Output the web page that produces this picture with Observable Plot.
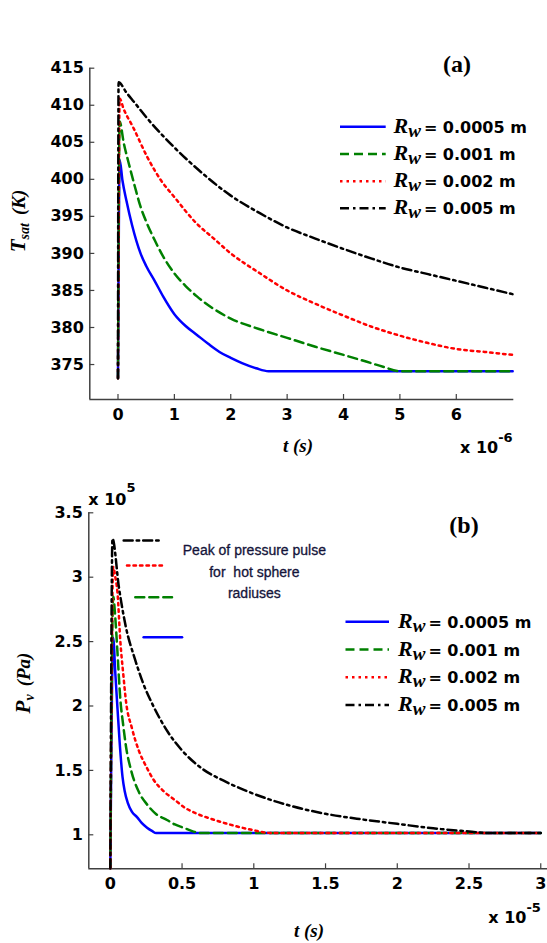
<!DOCTYPE html>
<html><head><meta charset="utf-8">
<script src="https://cdn.jsdelivr.net/npm/d3@7"></script>
<script src="https://cdn.jsdelivr.net/npm/@observablehq/plot@0.6"></script>
<style>
body{margin:0;background:#fff;}
#wrap{width:547px;}
#wrap svg{display:block;}
</style></head><body><div id="wrap"></div>
<script>
// ---------- data ----------
const radii = ["0.0005", "0.001", "0.002", "0.005"];
const colors = ["#0000ff", "#008000", "#ff0000", "#000000"];
const dashes = [null, "9,5", "2.5,4", "9,4,2.5,4"];

// Panel (a): T_sat (K) vs t (x 1e-6 s)
const tA1 = [0, 0.03, 0.08, 0.15, 0.25, 0.4, 0.5, 0.65, 0.8, 1.0, 1.2, 1.4, 1.6, 1.8, 2.0, 2.2, 2.45, 2.67, 7.0];
const vA1 = [373.15, 402.6, 399.8, 397.1, 393.8, 390.0, 388.3, 386.3, 384.2, 381.8, 380.2, 379.0, 377.8, 376.7, 375.9, 375.2, 374.5, 374.1, 374.1];
const tA2 = [0, 0.03, 0.1, 0.21, 0.3, 0.4, 0.5, 0.65, 0.8, 1.0, 1.2, 1.4, 1.7, 2.0, 2.5, 3.0, 3.5, 4.0, 4.4, 4.7, 5.0, 7.0];
const vA2 = [373.15, 407.8, 405.0, 401.6, 399.0, 396.3, 394.3, 391.8, 389.6, 387.3, 385.6, 384.2, 382.5, 381.2, 379.8, 378.6, 377.4, 376.3, 375.4, 374.7, 374.1, 374.1];
const tA3 = [0, 0.03, 0.1, 0.27, 0.52, 0.75, 1.0, 1.4, 1.7, 2.0, 2.5, 3.0, 3.5, 4.0, 4.5, 5.0, 5.5, 6.0, 6.5, 7.0];
const vA3 = [373.15, 410.9, 409.5, 407.0, 403.0, 400.0, 397.6, 394.0, 392.0, 390.0, 387.4, 385.0, 383.2, 381.6, 380.1, 378.9, 377.9, 377.1, 376.7, 376.3];
const tA4 = [0, 0.01, 0.15, 0.3, 0.5, 1.0, 1.5, 2.0, 2.5, 3.0, 3.5, 4.0, 4.5, 5.0, 5.5, 6.0, 6.5, 7.0];
const vA4 = [373.15, 413.1, 411.7, 410.3, 408.4, 404.3, 400.8, 397.8, 395.5, 393.5, 392.0, 390.6, 389.3, 388.1, 387.2, 386.3, 385.4, 384.5];

// Panel (b): P_v (x 1e5 Pa) vs t (x 1e-5 s)
const tB1 = [0, 0.02, 0.035, 0.05, 0.065, 0.085, 0.1, 0.121, 0.15, 0.186, 0.22, 0.256, 0.29, 0.32, 3.0];
const vB1 = [0.74, 2.53, 2.25, 1.98, 1.72, 1.45, 1.34, 1.25, 1.18, 1.137, 1.09, 1.055, 1.03, 1.013, 1.013];
const tB2 = [0, 0.02, 0.035, 0.048, 0.07, 0.09, 0.11, 0.145, 0.2, 0.26, 0.32, 0.395, 0.45, 0.51, 0.58, 0.63, 3.0];
const vB2 = [0.74, 2.85, 2.68, 2.45, 2.05, 1.85, 1.68, 1.5, 1.33, 1.23, 1.16, 1.115, 1.08, 1.055, 1.025, 1.013, 1.013];
const tB3 = [0, 0.02, 0.035, 0.05, 0.07, 0.09, 0.11, 0.15, 0.2, 0.25, 0.3, 0.37, 0.45, 0.52, 0.6, 0.7, 0.8, 0.9, 1.0, 1.1, 1.15, 3.0];
const vB3 = [0.74, 3.08, 3.0, 2.88, 2.5, 2.25, 2.03, 1.83, 1.65, 1.53, 1.43, 1.34, 1.27, 1.21, 1.165, 1.125, 1.09, 1.06, 1.035, 1.015, 1.013, 1.013];
const tB4 = [0, 0.015, 0.06, 0.109, 0.17, 0.231, 0.304, 0.4, 0.5, 0.644, 0.79, 1.0, 1.25, 1.5, 1.75, 2.0, 2.25, 2.5, 2.64, 3.0];
const vB4 = [0.74, 3.3, 2.92, 2.61, 2.37, 2.17, 1.99, 1.8, 1.655, 1.51, 1.42, 1.318, 1.227, 1.163, 1.12, 1.085, 1.05, 1.026, 1.013, 1.013];

// Peak-marker annotation in panel (b): start t, end t, level (x 1e5 Pa)
const peakT1 = [0.232, 0.174, 0.116, 0.093];
const peakT2 = [0.500, 0.430, 0.372, 0.349];
const peakP = [2.534, 2.845, 3.091, 3.285];
const noteLines = ["Peak of pressure pulse", "for  hot sphere", "radiuses"];
const noteT = [1.004, 1.004, 1.004];
const noteP = [3.207, 3.039, 2.876];

// Axes
const xTicksA = [0, 1, 2, 3, 4, 5, 6];
const yTicksA = [375, 380, 385, 390, 395, 400, 405, 410, 415];
const xDomA = [-0.5, 7.02];
const yDomA = [370.28, 415];
const xTicksB = [0, 0.5, 1, 1.5, 2, 2.5, 3];
const yTicksB = [1, 1.5, 2, 2.5, 3, 3.5];
const xDomB = [-0.15, 3.047];
const yDomB = [0.736, 3.5];

// ---------- helpers ----------
const zip = (ts, vs) => ts.map((t, i) => ({t, v: vs[i]}));
const setsA = [zip(tA1, vA1), zip(tA2, vA2), zip(tA3, vA3), zip(tA4, vA4)];
const setsB = [zip(tB1, vB1), zip(tB2, vB2), zip(tB3, vB3), zip(tB4, vB4)];
const axisColor = "#404040";
const font = "DejaVu Sans, Arial, sans-serif";
const serif = "Liberation Serif, Times New Roman, serif";
const fmt = d => String(d);

function seriesMarks(sets) {
  return sets.map((d, i) => Plot.line(d, {
    x: "t", y: "v", stroke: colors[i], strokeWidth: 2.5, curve: "monotone-x",
    strokeDasharray: dashes[i] || undefined, strokeLinejoin: "round"
  }));
}
function axesMarks(xTicks, yTicks, xDom, yDom) {
  return [
    Plot.ruleY([yDom[0]], {stroke: axisColor, strokeWidth: 1.5}),
    Plot.ruleX([xDom[0]], {stroke: axisColor, strokeWidth: 1.5}),
    Plot.ruleX(xTicks, {x: d => d, y1: yDom[0], y2: yDom[0], insetBottom: 5, stroke: axisColor, strokeWidth: 1.2}),
    Plot.ruleY(yTicks, {y: d => d, x1: xDom[0], x2: xDom[0], insetRight: -5, stroke: axisColor, strokeWidth: 1.2}),
    Plot.axisX({ticks: xTicks, tickSize: 0, tickPadding: 9, label: null, fill: "#000", tickFormat: fmt}),
    Plot.axisY({ticks: yTicks, tickSize: 0, tickPadding: 6, label: null, fill: "#000", tickFormat: fmt})
  ];
}
const style = {fontFamily: font, fontSize: "16px", fontWeight: "bold", color: "#000", background: "#fff", overflow: "visible"};

// ---------- panel (a) ----------
const plotA = Plot.plot({
  width: 547, height: 470,
  marginLeft: 89.3, marginRight: 33.7, marginTop: 67.7, marginBottom: 71,
  x: {domain: xDomA}, y: {domain: yDomA},
  style,
  marks: [...axesMarks(xTicksA, yTicksA, xDomA, yDomA), ...seriesMarks(setsA)]
});

// ---------- panel (b) ----------
const plotB = Plot.plot({
  width: 547, height: 473,
  marginLeft: 88.3, marginRight: 0, marginTop: 42.3, marginBottom: 74.7,
  x: {domain: xDomB}, y: {domain: yDomB},
  style,
  marks: [
    ...axesMarks(xTicksB, yTicksB, xDomB, yDomB),
    ...seriesMarks(setsB),
    ...peakP.map((p, i) => Plot.line([{t: peakT1[i], v: p}, {t: peakT2[i], v: p}], {
      x: "t", y: "v", stroke: colors[i], strokeWidth: 2.5, strokeDasharray: dashes[i] || undefined
    })),
    Plot.text(noteLines, {x: (d, i) => noteT[i], y: (d, i) => noteP[i], text: d => d,
      fontFamily: "Liberation Sans Narrow, Arial Narrow, sans-serif", fontSize: 14, fontWeight: "normal",
      fill: "#14143a", stroke: "#14143a", strokeWidth: 0.3, textAnchor: "middle"})
  ]
});

const wrap = document.getElementById("wrap");
wrap.appendChild(plotA);
wrap.appendChild(plotB);

// ---------- text overlays & legends ----------
function legend(svg, x1, x2, tx, rows) {
  const g = d3.select(svg).append("g").attr("text-anchor", "start");
  rows.forEach((y, i) => {
    g.append("line").attr("x1", x1).attr("x2", x2).attr("y1", y).attr("y2", y)
      .attr("stroke", colors[i]).attr("stroke-width", 2.5)
      .attr("stroke-dasharray", dashes[i] || null);
    const t = g.append("text").attr("x", tx).attr("y", y + 6).attr("fill", "#000").attr("text-anchor", "start");
    t.append("tspan").attr("font-family", serif).attr("font-style", "italic").attr("font-weight", "bold")
      .attr("font-size", 22).text("R");
    t.append("tspan").attr("font-family", serif).attr("font-style", "italic").attr("font-weight", "bold")
      .attr("font-size", 19).attr("dy", 4).text("w");
    t.append("tspan").attr("font-family", font).attr("font-weight", "bold").attr("font-size", 16)
      .attr("dy", -4).attr("dx", 3).text("= " + radii[i] + " m");
  });
}
function axisLabelY(svg, x, y, main, sub, unit) {
  const t = d3.select(svg).append("text")
    .attr("transform", `translate(${x},${y}) rotate(-90)`)
    .attr("text-anchor", "middle").attr("dy", "0.35em")
    .attr("font-family", serif).attr("font-style", "italic").attr("font-weight", "bold").attr("fill", "#000");
  t.append("tspan").attr("font-size", 21).text(main);
  t.append("tspan").attr("font-size", 14).attr("dy", 4).text(sub);
  t.append("tspan").attr("font-size", 19).attr("dy", -4).attr("dx", 8).text("(" + unit + ")");
}
function xLabel(svg, x, y) {
  d3.select(svg).append("text").attr("x", x).attr("y", y).attr("text-anchor", "middle").attr("dy", "0.35em")
    .attr("font-family", serif).attr("font-style", "italic").attr("font-weight", "bold")
    .attr("font-size", 19).attr("fill", "#000").text("t (s)");
}
function exponent(svg, x, y, ey, exp) {
  const t = d3.select(svg).append("text").attr("x", x).attr("y", y).attr("text-anchor", "start")
    .attr("font-family", font).attr("font-weight", "bold").attr("font-size", 16).attr("fill", "#000");
  t.append("tspan").text("x 10");
  t.append("tspan").attr("font-size", 13).attr("dy", ey - y).text(exp);
}
function panelTag(svg, x, y, tag) {
  d3.select(svg).append("text").attr("x", x).attr("y", y).attr("text-anchor", "middle")
    .attr("font-family", serif).attr("font-weight", "bold").attr("font-size", 24).attr("fill", "#000").text(tag);
}

legend(plotA, 340, 385.7, 393.5, [126.7, 154, 181.3, 208.3]);
axisLabelY(plotA, 19, 221, "T", "sat", "K");
xLabel(plotA, 298, 445);
exponent(plotA, 460, 453.3, 441.7, "-6");
panelTag(plotA, 457, 72, "(a)");

legend(plotB, 345.5, 389, 398, [151.7, 179.5, 207.3, 235]);
axisLabelY(plotB, 24, 213, "P", "v", "Pa");
xLabel(plotB, 309, 460);
exponent(plotB, 488.3, 452.7, 441.7, "-5");
exponent(plotB, 88.3, 35, 21.7, "5");
panelTag(plotB, 464, 63, "(b)");
</script>
</body></html>
